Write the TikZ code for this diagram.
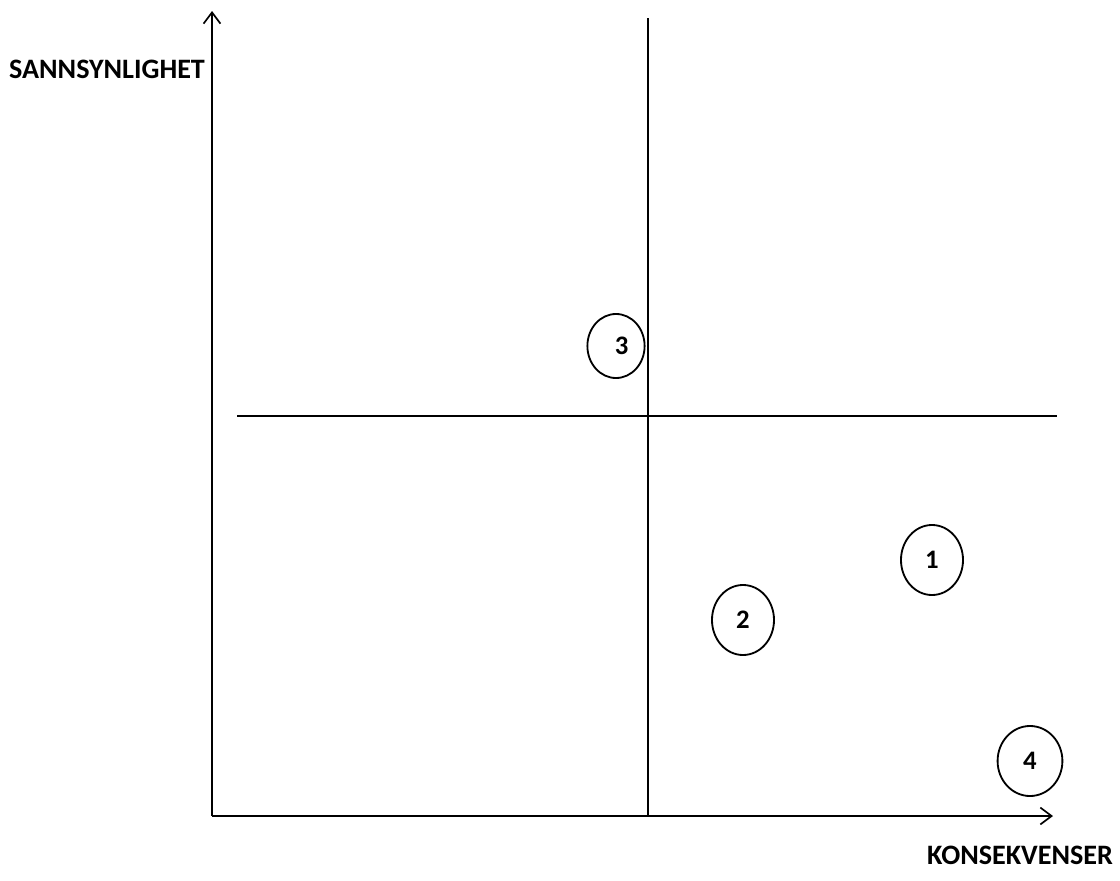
\documentclass[tikz,border=0pt]{standalone}
\usepackage{fontspec}
\setmainfont{Carlito}
\usetikzlibrary{positioning,arrows.meta,shapes.geometric}

\begin{document}
\begin{tikzpicture}[
   x=0.025cm, y=-0.025cm,
   line/.style  = {line width=1.4pt},
   axis/.style  = {line width=1.4pt, -{Straight Barb[length=8pt,width=12pt,line width=1.2pt]}},
   risk/.style  = {draw, ellipse, line width=1.3pt, inner sep=0pt,
                   minimum width=1.55cm, minimum height=1.75cm,
                   font=\fontsize{19}{22}\selectfont\bfseries},
   lbl/.style   = {font=\fontsize{20}{24}\selectfont\bfseries, inner sep=0pt}
]
\useasboundingbox (0,0) rectangle (1120,881);

\coordinate (O)    at (212,816);
\coordinate (ytop) at (212,11);
\coordinate (xend) at (1053,816);
\coordinate (vtop) at (648,18);
\coordinate (vbot) at (648,816);
\coordinate (hl)   at (237,416);
\coordinate (hr)   at (1057,416);

% axes
\draw[axis] (O) -- (ytop);
\draw[axis] (O) -- (xend);

% quadrant lines
\draw[line] (vtop) -- (vbot);
\draw[line] (hl) -- (hr);

\node[lbl] (sann) at (107,69)  {SANNSYNLIGHET};
\node[lbl] (kons) at (1020,855) {KONSEKVENSER};

\node[risk, minimum width=1.43cm, minimum height=1.6cm] (r3) at (616,346) {\hspace{8pt}3};
\node[risk] (r1) at (932,560) {1};
\node[risk] (r2) at (743,620) {2};
\node[risk, minimum width=1.62cm] (r4) at (1030,761) {4};
\end{tikzpicture}
\end{document}
